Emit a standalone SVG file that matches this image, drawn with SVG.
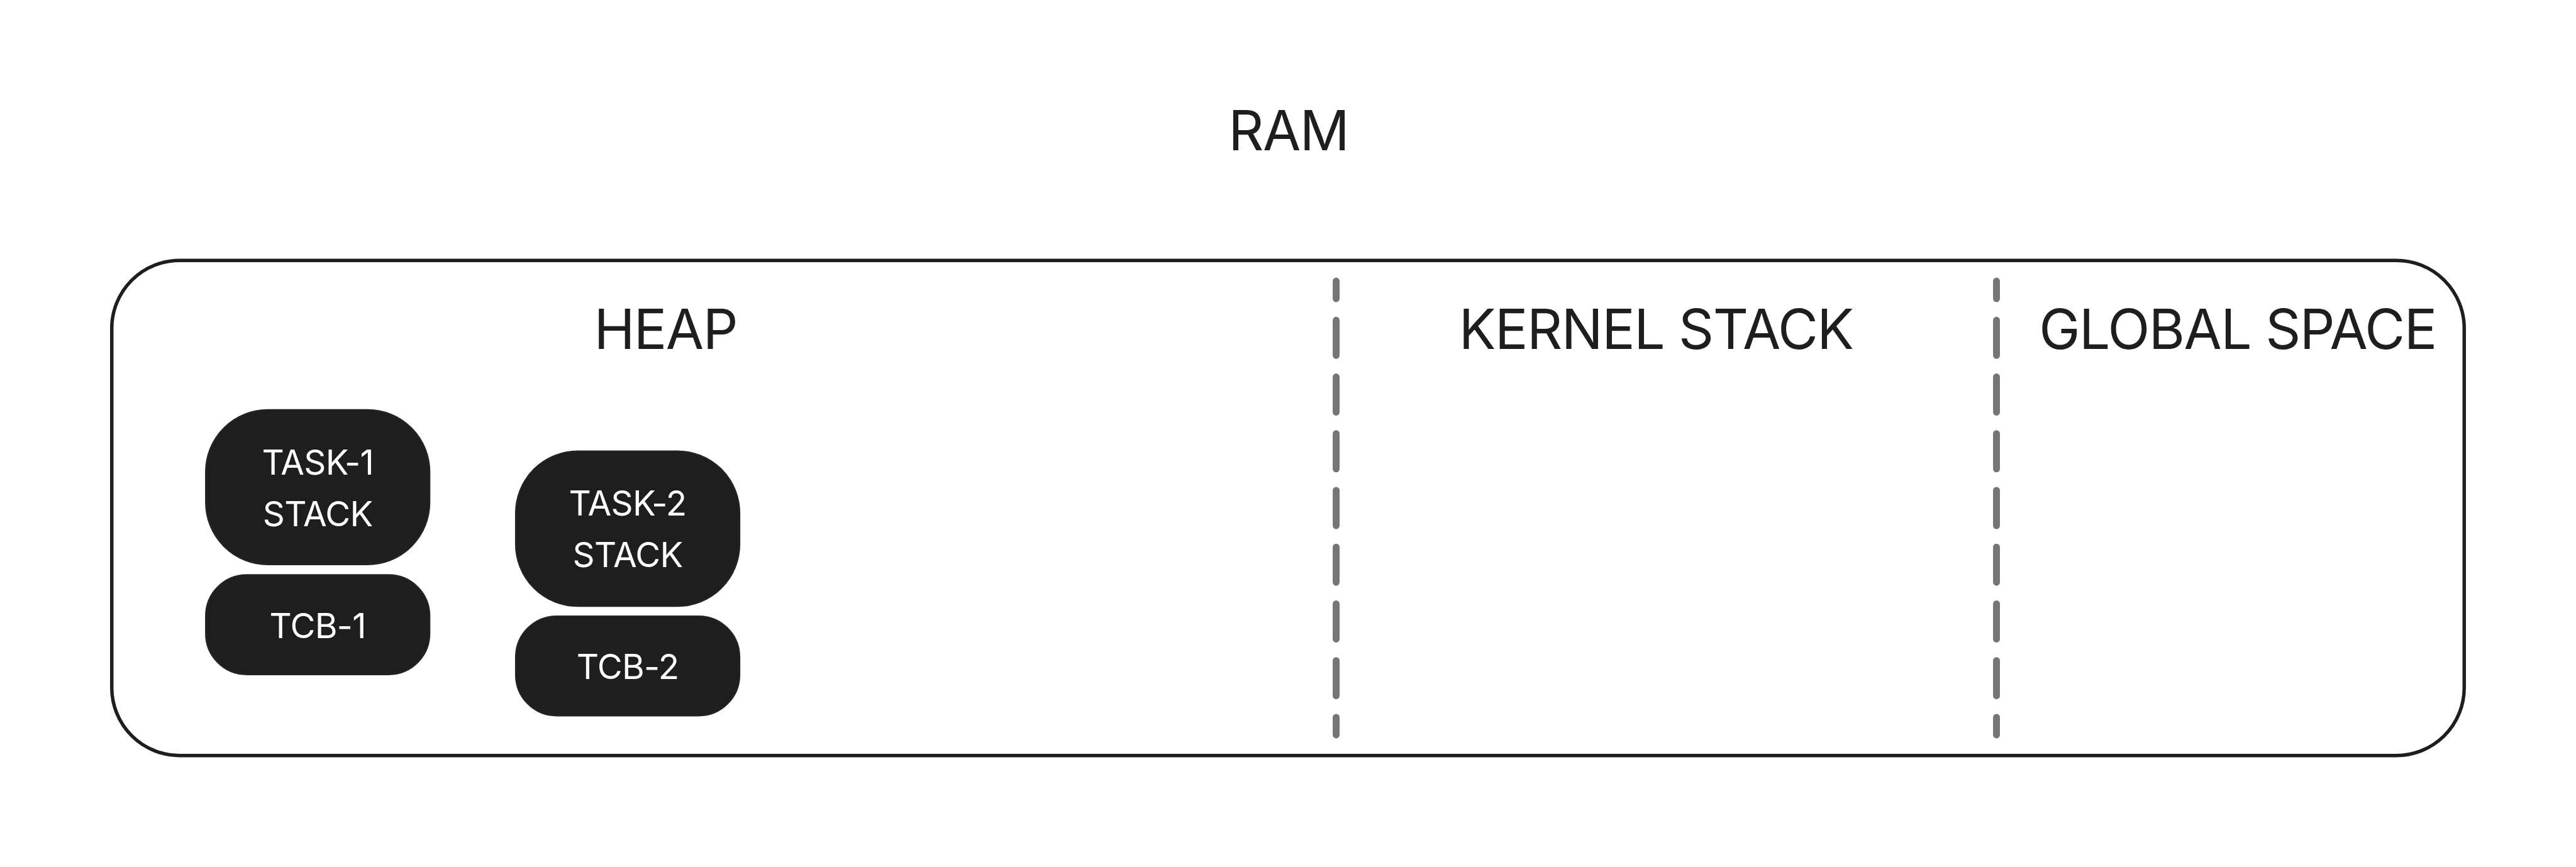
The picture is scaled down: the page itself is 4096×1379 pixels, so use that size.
<svg xmlns="http://www.w3.org/2000/svg" width="4096" height="1379" viewBox="0 0 4096 1379">
<style>
.big{font-family:Inter,"Liberation Sans",sans-serif;font-size:128px;fill:#1e1e1e;text-anchor:middle;letter-spacing:-2.3px}
.nt{font-family:Inter,"Liberation Sans",sans-serif;font-size:80px;fill:#ffffff;text-anchor:middle;letter-spacing:-1px}
.node{fill:#1e1e1e;stroke:#232323;stroke-width:4}
.div{stroke:#757575;stroke-width:16;stroke-linecap:round;stroke-dasharray:82 50;stroke-dashoffset:41;fill:none}
</style>
<rect width="4096" height="1379" fill="#ffffff"/>
<g transform="scale(0.683578)">
<g id="ram">
<rect x="260" y="606" width="5472" height="1152" rx="158" ry="158" fill="none" stroke="#1e1e1e" stroke-width="8"/>
<text class="big" x="2997" y="349">RAM</text>
<text class="big" x="1548" y="812">HEAP</text>
<text class="big" x="3852" y="812">KERNEL STACK</text>
<text class="big" x="5205" y="812">GLOBAL SPACE</text>
</g>
<g id="connectors">
<line class="div" x1="3108" y1="654" x2="3108" y2="1710"/>
<line class="div" x1="4644" y1="654" x2="4644" y2="1710"/>
</g>
<g id="task1-stack">
<rect class="node" x="479" y="954" width="520" height="359" rx="144" ry="144"/>
<text class="nt" x="739" y="1104">TASK-1</text>
<text class="nt" x="739" y="1224">STACK</text>
</g>
<g id="tcb1">
<rect class="node" x="479" y="1338" width="520" height="231" rx="95" ry="95"/>
<text class="nt" x="739" y="1485">TCB-1</text>
</g>
<g id="task2-stack">
<rect class="node" x="1200" y="1050" width="520" height="360" rx="144" ry="144"/>
<text class="nt" x="1460" y="1200">TASK-2</text>
<text class="nt" x="1460" y="1320">STACK</text>
</g>
<g id="tcb2">
<rect class="node" x="1200" y="1434" width="520" height="231" rx="95" ry="95"/>
<text class="nt" x="1460" y="1580">TCB-2</text>
</g>
</g>
</svg>
